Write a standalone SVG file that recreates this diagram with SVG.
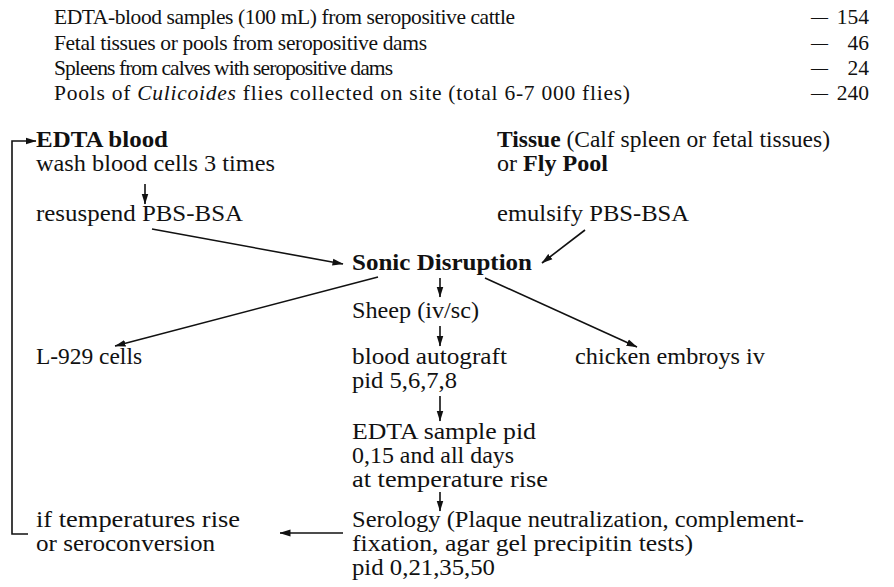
<svg xmlns="http://www.w3.org/2000/svg" width="894" height="587" viewBox="0 0 894 587">
<style>
text { font-family: "Liberation Serif", "Times New Roman", serif; font-size: 23px; fill: #111; }
.l { font-size: 21.5px; }
.b { font-weight: bold; }
.i { font-style: italic; }
.conn line, .conn polyline { stroke: #111; stroke-width: 1.6; fill: none; marker-end: url(#ah); }
</style>
<defs>
<marker id="ah" markerWidth="11" markerHeight="8" refX="10.5" refY="4" orient="auto" markerUnits="userSpaceOnUse">
<path d="M0,0.6 L11,4 L0,7.4 z" fill="#111"/>
</marker>
</defs>
<rect width="894" height="587" fill="#fff"/>

<g id="sample-list">
<text class="l" x="54" y="24" textLength="461" lengthAdjust="spacing">EDTA-blood samples (100 mL) from seropositive cattle</text>
<text class="l" x="54" y="50" textLength="373" lengthAdjust="spacing">Fetal tissues or pools from seropositive dams</text>
<text class="l" x="54" y="75" textLength="339" lengthAdjust="spacing">Spleens from calves with seropositive dams</text>
<text class="l" x="54" y="100" textLength="576" lengthAdjust="spacing">Pools of <tspan class="i">Culicoides</tspan> flies collected on site (total 6-7 000 flies)</text>
<text class="l" x="811" y="24" textLength="17" lengthAdjust="spacingAndGlyphs">—</text>
<text class="l" x="811" y="50" textLength="17" lengthAdjust="spacingAndGlyphs">—</text>
<text class="l" x="811" y="75" textLength="17" lengthAdjust="spacingAndGlyphs">—</text>
<text class="l" x="811" y="100" textLength="17" lengthAdjust="spacingAndGlyphs">—</text>
<text class="l" x="869" y="24" text-anchor="end">154</text>
<text class="l" x="869" y="50" text-anchor="end">46</text>
<text class="l" x="869" y="75" text-anchor="end">24</text>
<text class="l" x="869" y="100" text-anchor="end">240</text>
</g>

<g id="edta-blood">
<text class="b" x="36" y="147" textLength="132" lengthAdjust="spacingAndGlyphs">EDTA blood</text>
<text x="36" y="171" textLength="239" lengthAdjust="spacingAndGlyphs">wash blood cells 3 times</text>
</g>
<g id="resuspend">
<text x="36" y="221" textLength="207" lengthAdjust="spacingAndGlyphs">resuspend PBS-BSA</text>
</g>
<g id="tissue">
<text x="497" y="147" textLength="333" lengthAdjust="spacingAndGlyphs"><tspan class="b">Tissue</tspan> (Calf spleen or fetal tissues)</text>
<text x="497" y="171" textLength="111" lengthAdjust="spacingAndGlyphs">or <tspan class="b">Fly Pool</tspan></text>
</g>
<g id="emulsify">
<text x="497" y="221" textLength="192" lengthAdjust="spacingAndGlyphs">emulsify PBS-BSA</text>
</g>
<g id="sonic">
<text class="b" x="352" y="270" textLength="180" lengthAdjust="spacingAndGlyphs">Sonic Disruption</text>
</g>
<g id="sheep">
<text x="352" y="318" textLength="127" lengthAdjust="spacingAndGlyphs">Sheep (iv/sc)</text>
</g>
<g id="l929">
<text x="36" y="364" textLength="106" lengthAdjust="spacingAndGlyphs">L-929 cells</text>
</g>
<g id="autograft">
<text x="352" y="364" textLength="155" lengthAdjust="spacingAndGlyphs">blood autograft</text>
<text x="352" y="388" textLength="105" lengthAdjust="spacingAndGlyphs">pid 5,6,7,8</text>
</g>
<g id="chicken">
<text x="575" y="364" textLength="190" lengthAdjust="spacingAndGlyphs">chicken embroys iv</text>
</g>
<g id="edta-sample">
<text x="352" y="439" textLength="184" lengthAdjust="spacingAndGlyphs">EDTA sample pid</text>
<text x="352" y="463" textLength="162" lengthAdjust="spacingAndGlyphs">0,15 and all days</text>
<text x="352" y="487" textLength="196" lengthAdjust="spacingAndGlyphs">at temperature rise</text>
</g>
<g id="serology">
<text x="352" y="527" textLength="452" lengthAdjust="spacingAndGlyphs">Serology (Plaque neutralization, complement-</text>
<text x="352" y="551" textLength="341" lengthAdjust="spacingAndGlyphs">fixation, agar gel precipitin tests)</text>
<text x="352" y="575" textLength="143" lengthAdjust="spacingAndGlyphs">pid 0,21,35,50</text>
</g>
<g id="if-rise">
<text x="36" y="527" textLength="204" lengthAdjust="spacingAndGlyphs">if temperatures rise</text>
<text x="36" y="551" textLength="179" lengthAdjust="spacingAndGlyphs">or seroconversion</text>
</g>

<g id="connectors" class="conn">
<line x1="145" y1="184" x2="145" y2="204"/>
<line x1="152" y1="229" x2="343" y2="264"/>
<line x1="585" y1="230" x2="542" y2="263"/>
<line x1="378" y1="277" x2="115" y2="346"/>
<line x1="485" y1="278" x2="637" y2="347"/>
<line x1="440" y1="278" x2="440" y2="297"/>
<line x1="440" y1="326" x2="440" y2="346"/>
<line x1="440" y1="396" x2="440" y2="421"/>
<line x1="440" y1="492" x2="440" y2="511"/>
<line x1="343" y1="533" x2="280" y2="533"/>
<polyline points="28,534 12,534 12,141 36,141"/>
</g>
</svg>
